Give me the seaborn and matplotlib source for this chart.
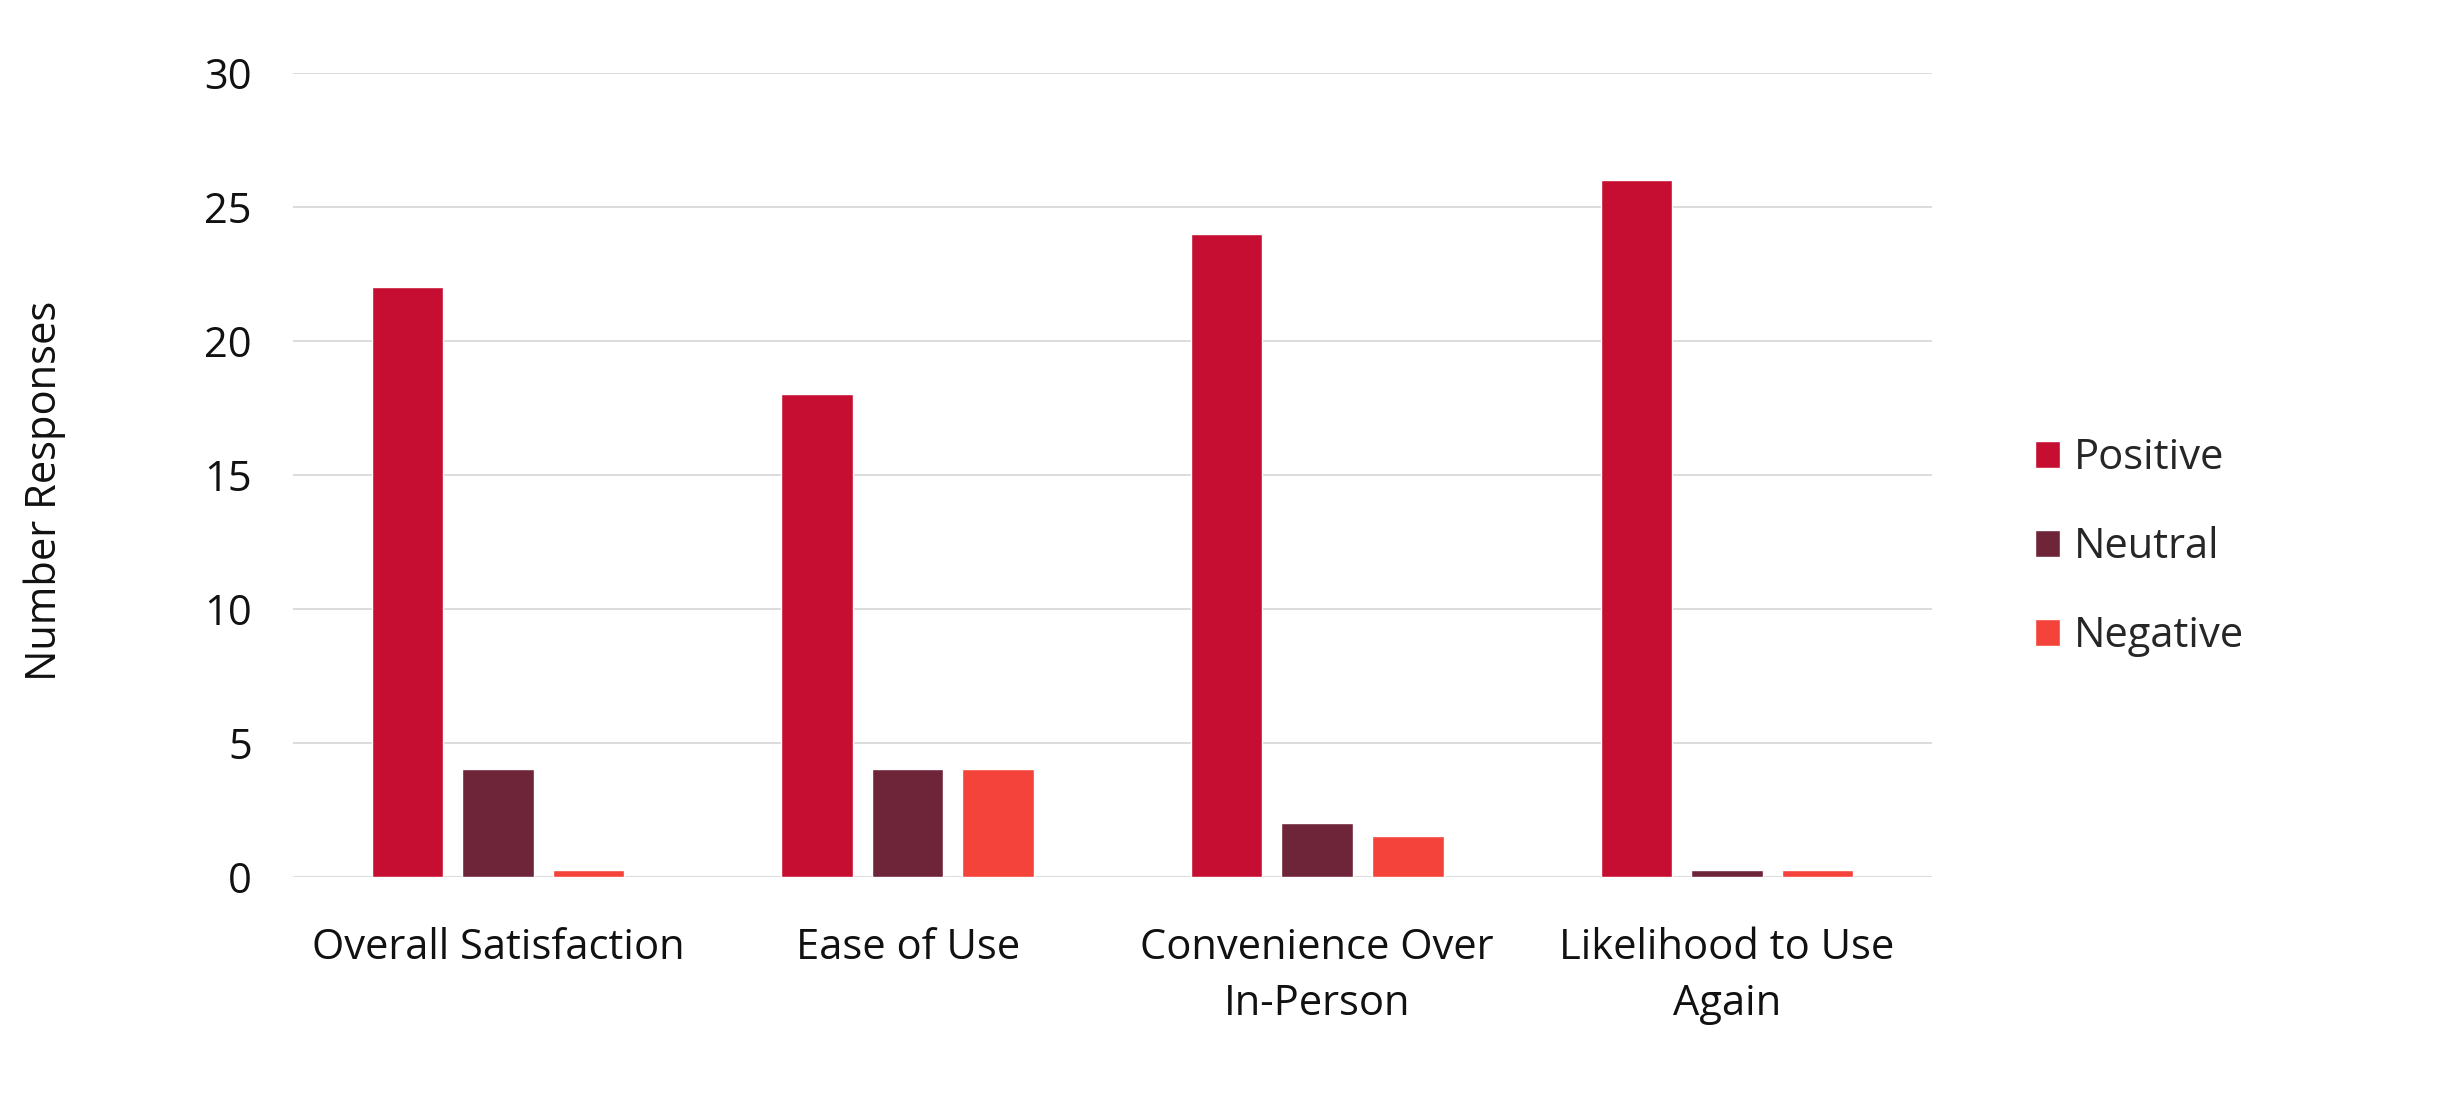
import numpy as np
import pandas as pd
import matplotlib
matplotlib.use("Agg")
import matplotlib.pyplot as plt
import seaborn as sns

# data
categories = ["Overall Satisfaction", "Ease of Use", "Convenience Over\nIn-Person", "Likelihood to Use\nAgain"]
positive = [22, 18, 24, 26]
neutral = [4, 4, 2, 0.25]
negative = [0.25, 4, 1.5, 0.25]
series = ["Positive", "Neutral", "Negative"]
colors = ["#C50E31", "#6E2439", "#F4433A"]

df = pd.DataFrame({"category": categories * 3,
                   "value": positive + neutral + negative,
                   "series": np.repeat(series, len(categories))})

sns.set_theme(style="white")
plt.rcParams["font.family"] = ["Open Sans", "DejaVu Sans"]

fig = plt.figure(figsize=(24.45, 11.04), dpi=100)
ax = fig.add_axes([0.12, 0.206, 0.67, 0.728])

sns.barplot(data=df, x="category", y="value", hue="series", hue_order=series,
            palette=colors, width=0.663, gap=0.21, saturation=1, ax=ax,
            errorbar=None, zorder=3)

ax.set_ylim(0, 30)
ax.set_yticks(range(0, 31, 5))
ax.set_xlim(-0.5, 3.5)
ax.grid(axis="y", color="#D9D9D9", linewidth=1.3, zorder=0)
ax.set_axisbelow(True)
for s in ax.spines.values():
    s.set_visible(False)
ax.tick_params(axis="both", length=0, labelsize=30, colors="#111111")
ax.tick_params(axis="x", pad=36)
ax.tick_params(axis="y", pad=30)
for lbl in ax.get_xticklabels():
    lbl.set_linespacing(1.45)
ax.set_xlabel("")
ax.set_ylabel("Number Responses", fontsize=30, color="#111111")
ax.yaxis.set_label_coords(-0.139, 0.48)

leg = ax.legend(loc="center left", bbox_to_anchor=(1.04, 0.41), frameon=False,
                fontsize=30, handlelength=0.6, handleheight=0.6,
                handletextpad=0.35, labelspacing=1.13)

fig.savefig("out.png", dpi=100)
